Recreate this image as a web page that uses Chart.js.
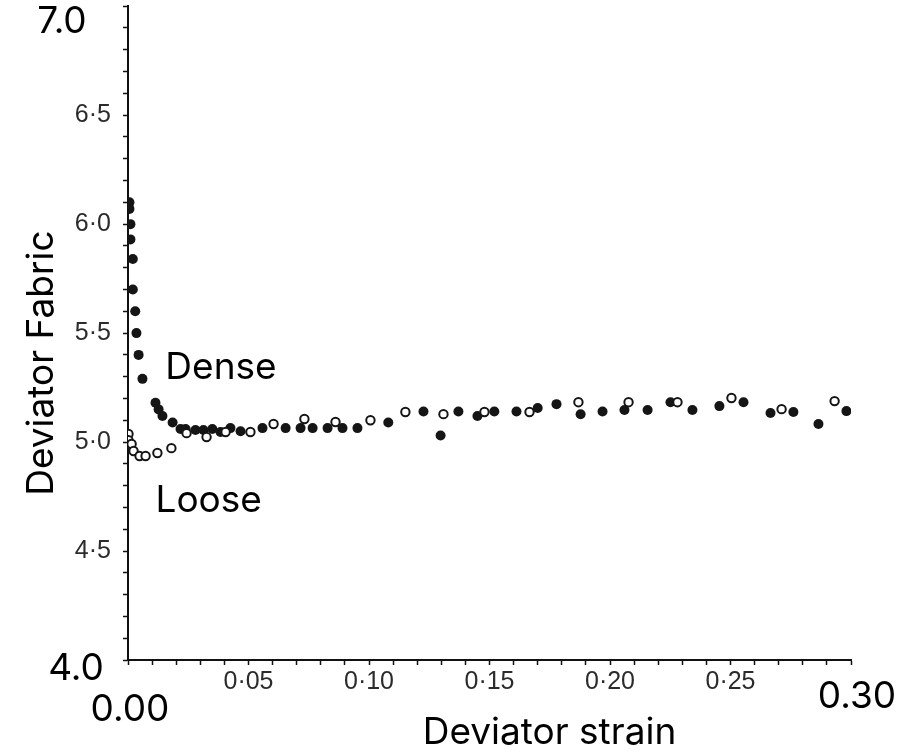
<!DOCTYPE html>
<html>
<head>
<meta charset="utf-8">
<script src="https://cdn.jsdelivr.net/npm/chart.js@4.4.1/dist/chart.umd.min.js"></script>
<style>
  body { margin: 0; background: #fff; }
  #wrap { width: 922px; height: 753px; position: relative; }
</style>
</head>
<body>
<div id="wrap"><canvas id="fabricChart"></canvas></div>
<script>
// Dense sample (filled dots)
const strainDense = [0.0006, 0.0006, 0.001, 0.001, 0.002, 0.002, 0.003, 0.0035, 0.0044, 0.006,
  0.0114, 0.0127, 0.0143, 0.0185, 0.0218, 0.0239, 0.028, 0.0313, 0.035, 0.0384, 0.0425, 0.0467,
  0.0558, 0.0654, 0.0716, 0.0766, 0.0828, 0.089, 0.0952, 0.108, 0.1226, 0.1297, 0.1371, 0.145,
  0.152, 0.1612, 0.170, 0.1778, 0.1878, 0.1969, 0.206, 0.2156, 0.2251, 0.2342, 0.2454, 0.2554,
  0.2666, 0.2761, 0.2865, 0.2981];
const fabricDense = [6.10, 6.07, 6.00, 5.93, 5.84, 5.70, 5.60, 5.50, 5.40, 5.29,
  5.18, 5.15, 5.12, 5.09, 5.06, 5.06, 5.055, 5.055, 5.06, 5.046, 5.064, 5.05,
  5.064, 5.064, 5.064, 5.064, 5.064, 5.064, 5.064, 5.09, 5.14, 5.03, 5.14, 5.12,
  5.14, 5.14, 5.156, 5.174, 5.128, 5.14, 5.147, 5.147, 5.183, 5.147, 5.165, 5.183,
  5.133, 5.138, 5.083, 5.142];

// Loose sample (open circles)
const strainLoose = [0.0002, 0.0002, 0.0015, 0.0023, 0.0048, 0.0073, 0.0122, 0.018, 0.0243, 0.0326,
  0.0405, 0.0508, 0.0604, 0.0732, 0.0861, 0.1006, 0.1151, 0.1309, 0.1479, 0.1666, 0.1869,
  0.2077, 0.228, 0.2504, 0.2712, 0.2932];
const fabricLoose = [5.037, 5.009, 4.991, 4.959, 4.936, 4.936, 4.95, 4.972, 5.041, 5.023,
  5.046, 5.046, 5.083, 5.106, 5.092, 5.10, 5.138, 5.128, 5.138, 5.138, 5.183,
  5.183, 5.183, 5.202, 5.151, 5.188];

// axis ranges and labelled ticks
const yRange = [4.0, 7.0];
const xRange = [0.0, 0.30];
const yMajorTicks = [4.5, 5.0, 5.5, 6.0, 6.5];
const xMajorTicks = [0.05, 0.10, 0.15, 0.20, 0.25];
const yEndLabels = ['4.0', '7.0'];
const xEndLabels = ['0.00', '0.30'];

function toPoints(xs, ys) {
    return xs.map((x, i) => ({ x: x, y: ys[i] }));
}

function isMajor(list, v) {
    return list.some(m => Math.abs(m - v) < 1e-6);
}

const BIG_FONT = '37px Inter, "Noto Sans", sans-serif';
const TICK_FONT = { family: '"Liberation Sans", Arial, sans-serif', size: 25 };

// Texte posé à la main (titres, extrémités d'axes, étiquettes des courbes)
const overlayText = {
    id: 'overlayText',
    afterDraw(chart) {
        const ctx = chart.ctx;
        const xs = chart.scales.x;
        const ys = chart.scales.y;
        const area = chart.chartArea;
        ctx.save();
        ctx.fillStyle = '#000';
        ctx.font = BIG_FONT;
        ctx.textAlign = 'center';
        ctx.textBaseline = 'middle';

        ctx.fillText(yEndLabels[1], area.left - 66, ys.getPixelForValue(yRange[1]) + 16);
        ctx.fillText(yEndLabels[0], area.left - 52, ys.getPixelForValue(yRange[0]) + 9);
        ctx.fillText(xEndLabels[0], xs.getPixelForValue(xRange[0]) + 2, area.bottom + 50);
        ctx.fillText(xEndLabels[1], xs.getPixelForValue(xRange[1]) + 6, area.bottom + 37);

        ctx.fillText('Deviator strain', (area.left + area.right) / 2 + 60, area.bottom + 73);

        ctx.save();
        ctx.translate(area.left - 86, (area.top + area.bottom) / 2 + 30);
        ctx.rotate(-Math.PI / 2);
        ctx.fillText('Deviator Fabric', 0, 0);
        ctx.restore();

        ctx.textAlign = 'left';
        ctx.fillText('Dense', xs.getPixelForValue(0.0155), ys.getPixelForValue(5.34));
        ctx.fillText('Loose', xs.getPixelForValue(0.0114), ys.getPixelForValue(4.73));
        ctx.restore();
    }
};

function createChart() {
    const ctx = document.getElementById('fabricChart').getContext('2d');

    new Chart(ctx, {
        type: 'scatter',
        data: {
            datasets: [
                {
                    label: 'Loose',
                    data: toPoints(strainLoose, fabricLoose),
                    pointRadius: 4.2,
                    backgroundColor: '#fff',
                    borderColor: '#151515',
                    borderWidth: 2,
                    order: 1
                },
                {
                    label: 'Dense',
                    data: toPoints(strainDense, fabricDense),
                    pointRadius: 5,
                    backgroundColor: '#151515',
                    borderColor: '#151515',
                    borderWidth: 0,
                    order: 2
                }
            ]
        },
        options: {
            responsive: true,
            maintainAspectRatio: false,
            animation: false,
            layout: {
                padding: { top: 6, right: 71, left: 0, bottom: 0 }
            },
            plugins: {
                legend: { display: false },
                tooltip: { enabled: false }
            },
            scales: {
                x: {
                    type: 'linear',
                    min: xRange[0],
                    max: xRange[1],
                    afterFit: function(scale) {
                        scale.height = 93;
                        scale.paddingLeft = 0;
                        scale.paddingRight = 0;
                    },
                    border: { display: true, color: '#111', width: 2 },
                    grid: {
                        drawOnChartArea: false,
                        drawTicks: true,
                        tickLength: 5,
                        tickColor: '#111',
                        tickWidth: 1.5
                    },
                    ticks: {
                        stepSize: 0.01,
                        autoSkip: false,
                        maxRotation: 0,
                        padding: 2,
                        color: '#2b2b2b',
                        font: TICK_FONT,
                        callback: function(value) {
                            return isMajor(xMajorTicks, value) ? value.toFixed(2).replace('.', '·') : '';
                        }
                    }
                },
                y: {
                    type: 'linear',
                    min: yRange[0],
                    max: yRange[1],
                    afterFit: function(scale) {
                        scale.width = 128;
                        scale.paddingTop = 0;
                        scale.paddingBottom = 0;
                    },
                    border: { display: true, color: '#111', width: 2 },
                    grid: {
                        drawOnChartArea: false,
                        drawTicks: true,
                        tickLength: 5,
                        tickColor: '#111',
                        tickWidth: 1.5
                    },
                    ticks: {
                        stepSize: 0.1,
                        autoSkip: false,
                        padding: 12,
                        color: '#2b2b2b',
                        font: TICK_FONT,
                        callback: function(value) {
                            return isMajor(yMajorTicks, value) ? value.toFixed(1).replace('.', '·') : '';
                        }
                    }
                }
            }
        },
        plugins: [overlayText]
    });
}

window.onload = createChart;
</script>
</body>
</html>
